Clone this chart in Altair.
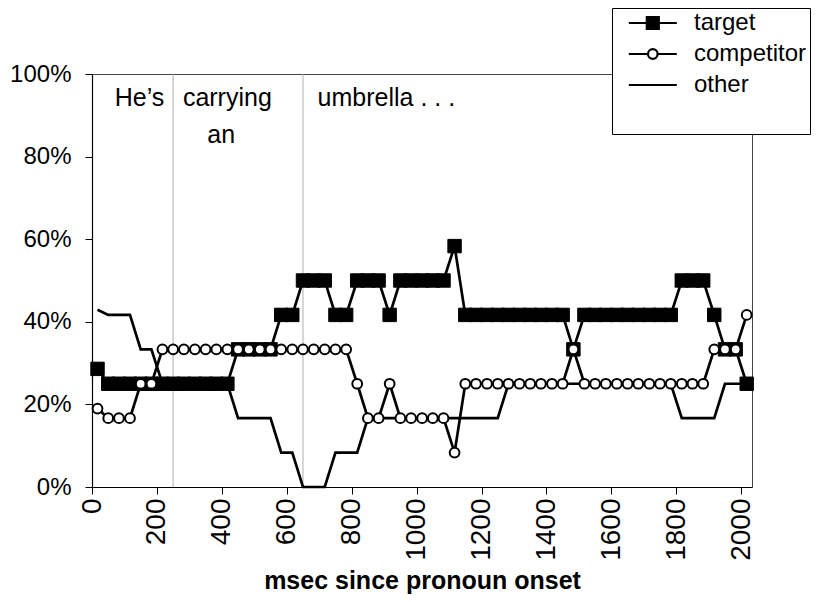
import altair as alt
import pandas as pd

# frame times (ms since pronoun onset), one video frame = 33.3 ms
frame_ms = [17, 50, 83, 117, 150, 183, 217, 250, 283, 317, 350, 383, 417, 450, 483,
            517, 550, 583, 617, 650, 683, 717, 750, 783, 817, 850, 883, 917, 950, 983,
            1017, 1050, 1083, 1117, 1150, 1183, 1217, 1250, 1283, 1317, 1350, 1383, 1417,
            1450, 1483, 1517, 1550, 1583, 1617, 1650, 1683, 1717, 1750, 1783, 1817, 1850,
            1883, 1917, 1950, 1983, 2017]

target = [0.286, 0.25, 0.25, 0.25, 0.25, 0.25, 0.25, 0.25, 0.25, 0.25, 0.25, 0.25, 0.25,
          0.3333, 0.3333, 0.3333, 0.3333, 0.4167, 0.4167, 0.5, 0.5, 0.5, 0.4167, 0.4167,
          0.5, 0.5, 0.5, 0.4167, 0.5, 0.5, 0.5, 0.5, 0.5, 0.5833, 0.4167, 0.4167, 0.4167,
          0.4167, 0.4167, 0.4167, 0.4167, 0.4167, 0.4167, 0.4167, 0.3333, 0.4167, 0.4167,
          0.4167, 0.4167, 0.4167, 0.4167, 0.4167, 0.4167, 0.4167, 0.5, 0.5, 0.5, 0.4167,
          0.3333, 0.3333, 0.25]

competitor = [0.19, 0.1667, 0.1667, 0.1667, 0.25, 0.25, 0.3333, 0.3333, 0.3333, 0.3333,
              0.3333, 0.3333, 0.3333, 0.3333, 0.3333, 0.3333, 0.3333, 0.3333, 0.3333,
              0.3333, 0.3333, 0.3333, 0.3333, 0.3333, 0.25, 0.1667, 0.1667, 0.25, 0.1667,
              0.1667, 0.1667, 0.1667, 0.1667, 0.0833, 0.25, 0.25, 0.25, 0.25, 0.25, 0.25,
              0.25, 0.25, 0.25, 0.25, 0.3333, 0.25, 0.25, 0.25, 0.25, 0.25, 0.25, 0.25,
              0.25, 0.25, 0.25, 0.25, 0.25, 0.3333, 0.3333, 0.3333, 0.4167]

other = [0.429, 0.4167, 0.4167, 0.4167, 0.3333, 0.3333, 0.25, 0.25, 0.25, 0.25, 0.25, 0.25,
         0.25, 0.1667, 0.1667, 0.1667, 0.1667, 0.0833, 0.0833, 0.0, 0.0, 0.0, 0.0833,
         0.0833, 0.0833, 0.1667, 0.1667, 0.1667, 0.1667, 0.1667, 0.1667, 0.1667, 0.1667,
         0.1667, 0.1667, 0.1667, 0.1667, 0.1667, 0.25, 0.25, 0.25, 0.25, 0.25, 0.25, 0.25,
         0.25, 0.25, 0.25, 0.25, 0.25, 0.25, 0.25, 0.25, 0.25, 0.1667, 0.1667, 0.1667,
         0.1667, 0.25, 0.25, 0.25]

series_names = ["target", "competitor", "other"]

# word boundaries and the words of the sentence
word_bounds_ms = [250, 650]
words = ["He\u2019s", "carrying", "an", "umbrella . . ."]
word_ms = [70, 280, 355, 695]
word_level = [0.922, 0.922, 0.833, 0.922]

x_ticks = [0, 200, 400, 600, 800, 1000, 1200, 1400, 1600, 1800, 2000]
y_ticks = [0, 0.2, 0.4, 0.6, 0.8, 1.0]

FONT = "Liberation Sans"

rows = []
for name, vals in zip(series_names, [target, competitor, other]):
    for t, v in zip(frame_ms, vals):
        rows.append({"ms": t, "prop": v, "series": name})
df = pd.DataFrame(rows)
bounds_df = pd.DataFrame({"ms": word_bounds_ms})
words_df = pd.DataFrame({"ms": word_ms, "prop": word_level, "word": words})

xscale = alt.Scale(domain=[0, 2033.3], nice=False, zero=False)
yscale = alt.Scale(domain=[0, 1], nice=False)
xaxis = alt.Axis(values=x_ticks, format="d", labelAngle=270, labelFontSize=28,
                 title="msec since pronoun onset",
                 tickSize=7, labelPadding=4, titlePadding=8, grid=False)
yaxis = alt.Axis(values=y_ticks, format=".0%", title=None, tickSize=7,
                 labelPadding=14, grid=False)
X = alt.X("ms:Q", scale=xscale, axis=xaxis)
Y = alt.Y("prop:Q", scale=yscale, axis=yaxis)

base = alt.Chart(df)

rules = alt.Chart(bounds_df).mark_rule(color="#b0b0b0", strokeWidth=1).encode(x=X)

texts = alt.Chart(words_df).mark_text(
    font=FONT, fontSize=25, align="left", baseline="alphabetic", color="black"
).encode(x=X, y=Y, text="word:N")

other_line = base.transform_filter(alt.datum.series == "other").mark_line(
    color="black", strokeWidth=2.7).encode(x=X, y=Y)

target_line = base.transform_filter(alt.datum.series == "target").mark_line(
    color="black", strokeWidth=2.7).encode(x=X, y=Y)
target_pts = base.transform_filter(alt.datum.series == "target").mark_point(
    shape="square", filled=True, fill="black", stroke="black", strokeWidth=1,
    size=180, opacity=1).encode(x=X, y=Y)

comp_line = base.transform_filter(alt.datum.series == "competitor").mark_line(
    color="black", strokeWidth=2.7).encode(x=X, y=Y)
comp_pts = base.transform_filter(alt.datum.series == "competitor").mark_point(
    shape="circle", filled=True, fill="white", stroke="black", strokeWidth=2,
    size=95, opacity=1).encode(x=X, y=Y)

# legend symbols: line with marker, unit = sqrt(size)/2 px
path_target = "M0.3,0H8.3M3.3,-1H5.3V1H3.3Z"
path_comp = ("M0.3,0H3.5M5.1,0H8.3M5.1,0A0.8,0.8,0,1,1,3.5,0"
             "A0.8,0.8,0,1,1,5.1,0Z")
path_other = "M0.3,0H8.3"

leg = alt.Legend(
    title="\u00a0", titleOrient="bottom", titleFontSize=20, titlePadding=14,
    orient="none", legendX=520, legendY=-66, padding=3,
    strokeColor="black", fillColor="white", cornerRadius=0,
    labelFont=FONT, labelFontSize=24, labelColor="black", labelOffset=55,
    labelExpr="datum.label + '\u00a0\u00a0'",
    symbolSize=144, symbolStrokeWidth=2.2, symbolStrokeColor="black",
    symbolOpacity=1, rowPadding=7,
)
legend_layer = base.mark_point(opacity=0, stroke="black", strokeWidth=2.2).encode(
    x=X, y=Y,
    shape=alt.Shape("series:N", scale=alt.Scale(domain=series_names,
                    range=[path_target, path_comp, path_other]), legend=leg),
    fill=alt.Fill("series:N", scale=alt.Scale(domain=series_names,
                  range=["black", "white", "transparent"]), legend=leg),
    stroke=alt.Stroke("series:N", scale=alt.Scale(domain=series_names,
                      range=["black", "black", "black"]), legend=leg),
)

chart = alt.layer(
    rules, texts, other_line, target_line, target_pts, comp_line, comp_pts, legend_layer
).properties(
    width=660, height=413,
    autosize=alt.AutoSizeParams(type="none"),
    padding={"left": 84, "top": 66, "right": 69, "bottom": 112},
).configure_view(
    stroke="#444444", strokeWidth=1
).configure_axis(
    labelFont=FONT, labelFontSize=24, labelColor="black",
    titleFont=FONT, titleFontSize=25, titleFontWeight="bold", titleColor="black",
    domainColor="black", domainWidth=1.2, tickColor="black", tickWidth=1,
)

chart.save("out.html", embed_options={"renderer": "svg", "actions": False})
